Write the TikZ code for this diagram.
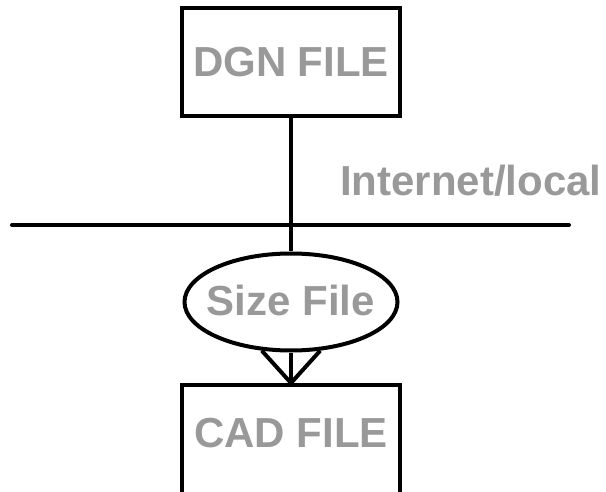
\documentclass[tikz,border=0pt]{standalone}
\usepackage{fontspec}
\setmainfont{Liberation Sans}
\usetikzlibrary{shapes.geometric}
\definecolor{txtgray}{RGB}{153,153,153}
\tikzset{
  lbl/.style={font=\fontsize{42}{50}\selectfont\bfseries, text=txtgray, inner sep=0pt},
  filebox/.style={draw=black, line width=4pt, rectangle, minimum width=218pt, inner sep=0pt},
  oval/.style={draw=black, line width=4pt, ellipse, minimum width=213pt, minimum height=97pt, inner sep=0pt},
  wire/.style={draw=black, line width=4pt}
}
\begin{document}
\begin{tikzpicture}[x=1pt,y=-1pt]
\useasboundingbox (0,0) rectangle (606,492);
\clip (0,0) rectangle (606,492);
\node[filebox, minimum height=108pt, lbl, draw=black] (dgn) at (291,62.5) {DGN FILE};
\node[oval] (size) at (291,302) {};
\node[lbl] (sizetxt) at (291,300) {Size File};
\node[filebox, minimum height=130pt, anchor=north] (cad) at (291,383) {};
\node[lbl] (cadtxt) at (291,433.5) {CAD FILE};
\node[lbl, anchor=base west] (net) at (340,196) {Internet/local};
\coordinate (wl) at (12,225);
\coordinate (wr) at (569,225);
\draw[wire, line cap=round] (wl) -- (wr);
\draw[wire] (dgn.south) -- (size.north);
\draw[wire] (size.south) -- (cad.north);
\draw[wire, line join=miter] (size.239) -- (cad.north) -- (size.301);
\end{tikzpicture}
\end{document}
